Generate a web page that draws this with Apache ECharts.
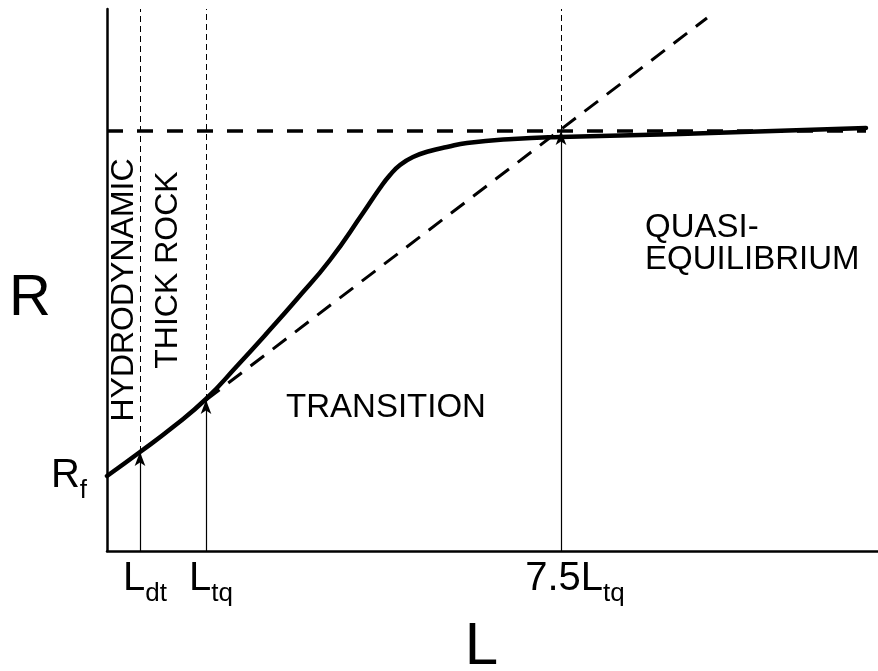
<!DOCTYPE html>
<html>
<head>
<meta charset="utf-8">
<script src="https://cdn.jsdelivr.net/npm/echarts@6/dist/echarts.min.js"></script>
<style>
  html, body { margin: 0; padding: 0; background: #fff; }
  #chart { width: 878px; height: 671px; }
</style>
</head>
<body>
<div id="chart"></div>
<script>
// ---- data (schematic units) ----
const curveL = [0, 33, 66, 99, 130, 160, 190, 223, 256, 273, 283, 293, 306, 323, 340, 360, 406, 453, 573, 759];
const curveR = [75, 99, 124, 152, 185, 218, 252, 291, 338, 363, 376, 386, 394, 400, 404, 408, 412, 414, 417, 423];
const tangentL = [99, 600];
const tangentR = [151, 533];
const plateauL = [0, 759];
const plateauR = [420, 420];
const markL = [33, 99, 454];          // L_dt, L_tq, 7.5 L_tq
const markR = [99, 151, 420];         // R at the marked lengths
const tickMain = ['L', 'L', '7.5L'];
const tickSub = ['dt', 'tq', 'tq'];
const rfValue = 75;
const regionNames = ['HYDRODYNAMIC', 'THICK ROCK', 'TRANSITION', 'QUASI-\nEQUILIBRIUM'];
const regionL = [17, 61, 279, 538];
const regionR = [261, 281, 143, 307];
const xMax = 771, yMax = 542;

const FONT = '"Liberation Sans", Arial, Helvetica, sans-serif';
const chart = echarts.init(document.getElementById('chart'), null, { renderer: 'canvas' });

const arrowLines = markL.map((l, i) => [{ coord: [l, 0] }, { coord: [l, markR[i]] }]);
const dashedLines = markL.map((l, i) => [{ coord: [l, markR[i]] }, { coord: [l, yMax] }]);

const regionData = regionNames.map((n, i) => ({
  value: [regionL[i], regionR[i]],
  name: n,
  label: i < 2 ? { rotate: 90, align: 'center', verticalAlign: 'middle', fontSize: 32 }
       : i === 2 ? { align: 'center', verticalAlign: 'middle', fontSize: 33 }
       : { align: 'left', verticalAlign: 'middle', lineHeight: 32, fontSize: 33 }
}));

const padWidths = [10, 10, 28];

chart.setOption({
  animation: false,
  backgroundColor: '#fff',
  textStyle: { fontFamily: FONT, color: '#000' },
  grid: { left: 107, right: 0, top: 9, bottom: 120, containLabel: false, outerBoundsMode: 'none' },
  xAxis: {
    type: 'value', min: 0, max: xMax,
    name: 'L', nameLocation: 'middle', nameGap: 66, nameMoveOverlap: false,
    nameTextStyle: { fontSize: 60, color: '#000', fontFamily: FONT, padding: [0, 22, 0, 0] },
    axisLine: { show: true, onZero: false, lineStyle: { color: '#000', width: 2.5 } },
    axisTick: { show: false },
    splitLine: { show: false },
    axisLabel: {
      show: true, customValues: markL, margin: 8, color: '#000',
      formatter: function (v) {
        const i = markL.indexOf(v);
        return '{p' + i + '| }{m|' + tickMain[i] + '}{s|' + tickSub[i] + '}';
      },
      rich: {
        p0: { width: padWidths[0], fontSize: 10 },
        p1: { width: padWidths[1], fontSize: 10 },
        p2: { width: padWidths[2], fontSize: 10 },
        m: { fontSize: 40, lineHeight: 40, fontFamily: FONT, color: '#000', verticalAlign: 'top' },
        s: { fontSize: 26, lineHeight: 26, fontFamily: FONT, color: '#000', verticalAlign: 'top', padding: [22, 0, 0, 0] }
      }
    }
  },
  yAxis: {
    type: 'value', min: 0, max: yMax,
    name: '\nR', nameLocation: 'middle', nameRotate: 0, nameGap: 56, nameMoveOverlap: false,
    nameTextStyle: { fontSize: 58, lineHeight: 38, color: '#000', fontFamily: FONT },
    axisLine: { show: true, onZero: false, lineStyle: { color: '#000', width: 2.5 } },
    axisTick: { show: false },
    splitLine: { show: false },
    axisLabel: {
      show: true, customValues: [rfValue], margin: 20, color: '#000',
      formatter: function () { return '{m|R}{s|f}'; },
      rich: {
        m: { fontSize: 40, lineHeight: 40, fontFamily: FONT, color: '#000', verticalAlign: 'top' },
        s: { fontSize: 26, lineHeight: 26, fontFamily: FONT, color: '#000', verticalAlign: 'top', padding: [22, 0, 14, 0] }
      }
    }
  },
  series: [
    {
      type: 'line', name: 'plateau', silent: true,
      data: plateauL.map((l, i) => [l, plateauR[i]]),
      showSymbol: false, symbol: 'none',
      lineStyle: { color: '#000', width: 3.5, type: [16, 14] },
      z: 2
    },
    {
      type: 'line', name: 'tangent', silent: true,
      data: tangentL.map((l, i) => [l, tangentR[i]]),
      showSymbol: false, symbol: 'none',
      lineStyle: { color: '#000', width: 3, type: [17, 11] },
      z: 2
    },
    {
      type: 'line', name: 'R(L)', silent: true,
      data: curveL.map((l, i) => [l, curveR[i]]),
      smooth: 0.5, showSymbol: false, symbol: 'none',
      lineStyle: { color: '#000', width: 4.5, cap: 'round' },
      z: 3
    },
    {
      type: 'line', name: 'markers', silent: true, data: [],
      markLine: {
        silent: true, animation: false,
        symbol: ['none', 'none'],
        label: { show: false },
        emphasis: { disabled: true },
        lineStyle: { color: '#000', width: 1, type: [6, 4] },
        data: dashedLines
      },
      z: 1
    },
    {
      type: 'line', name: 'arrows', silent: true, data: [],
      markLine: {
        silent: true, animation: false,
        symbol: ['none', 'arrow'], symbolSize: [8, 14],
        label: { show: false },
        emphasis: { disabled: true },
        lineStyle: { color: '#000', width: 1.2, type: 'solid', opacity: 1 },
        itemStyle: { color: '#000' },
        data: arrowLines
      },
      z: 1
    },
    {
      type: 'scatter', name: 'regions', silent: true,
      symbolSize: 0,
      itemStyle: { opacity: 1, color: '#000' },
      data: regionData,
      label: {
        show: true, position: 'inside', formatter: '{b}', opacity: 1,
        fontSize: 32, fontFamily: FONT, color: '#000', textBorderWidth: 0
      },
      z: 4
    }
  ]
});
</script>
</body>
</html>
